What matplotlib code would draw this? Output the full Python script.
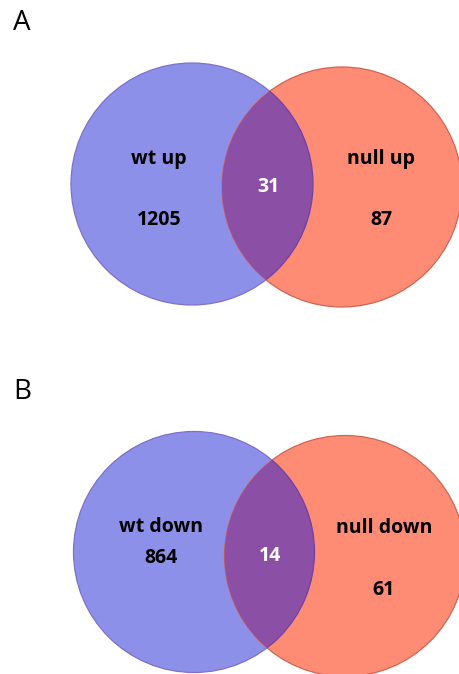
import matplotlib.pyplot as plt
from matplotlib.patches import Circle

plt.rcParams['font.family'] = ['Open Sans', 'DejaVu Sans']

# gene counts per panel: (left only, shared, right only)
panels = ['A', 'B']
left_names = ['wt up', 'wt down']
right_names = ['null up', 'null down']
left_only = [1205, 864]
shared = [31, 14]
right_only = [87, 61]

fig = plt.figure(figsize=(4.6, 6.74), dpi=100)
ax = fig.add_axes([0, 0, 1, 1])
ax.set_xlim(0, 460)
ax.set_ylim(674, 0)
ax.set_aspect('equal')
ax.axis('off')

blue_fc, blue_ec = '#8d90e9', '#8070c8'
red_fc, red_ec = '#fe8c74', '#d06452'
mid_fc = '#8b4fa6'

# circle layout for each panel (x, y, radius) in pixels
left_c = [(192, 184, 121), (194, 552, 120.5)]
right_c = [(342, 187, 120), (345, 556, 120.5)]
letter_y = [23, 392]
name_dy = [-25, -25]
num_dy = [36, 6]
right_num_dy = [36, 37]
fs = 14

for i in range(2):
    lx, ly, lr = left_c[i]
    rx, ry, rr = right_c[i]
    blue = Circle((lx, ly), lr, fc=blue_fc, ec=blue_ec, lw=0.9, zorder=1)
    red = Circle((rx, ry), rr, fc=red_fc, ec=red_ec, lw=0.9, zorder=2)
    ax.add_patch(blue)
    ax.add_patch(red)
    # overlap: blue circle shape painted purple, clipped to the red one
    mid = Circle((lx, ly), lr, fc=mid_fc, ec='#7040aa', lw=0.9, zorder=3)
    ax.add_patch(mid)
    mid.set_clip_path(red)

    ax.text(13, letter_y[i], panels[i], fontsize=20, va='center', ha='left')

    ax.text(lx - 33, ly + name_dy[i], left_names[i], fontsize=fs,
            fontweight='bold', ha='center', va='center', zorder=5)
    ax.text(lx - 33, ly + num_dy[i], str(left_only[i]), fontsize=fs,
            fontweight='bold', ha='center', va='center', zorder=5)
    ax.text((lx + lr + rx - rr) / 2 + 0.5, (ly + ry) / 2 + 2, str(shared[i]),
            fontsize=fs, fontweight='bold', color='white',
            ha='center', va='center', zorder=5)
    ax.text(rx + 39, ry + name_dy[i] - 3, right_names[i], fontsize=fs,
            fontweight='bold', ha='center', va='center', zorder=5)
    ax.text(rx + 39, ry + right_num_dy[i] - 3, str(right_only[i]), fontsize=fs,
            fontweight='bold', ha='center', va='center', zorder=5)

fig.savefig('out.png', dpi=100)
